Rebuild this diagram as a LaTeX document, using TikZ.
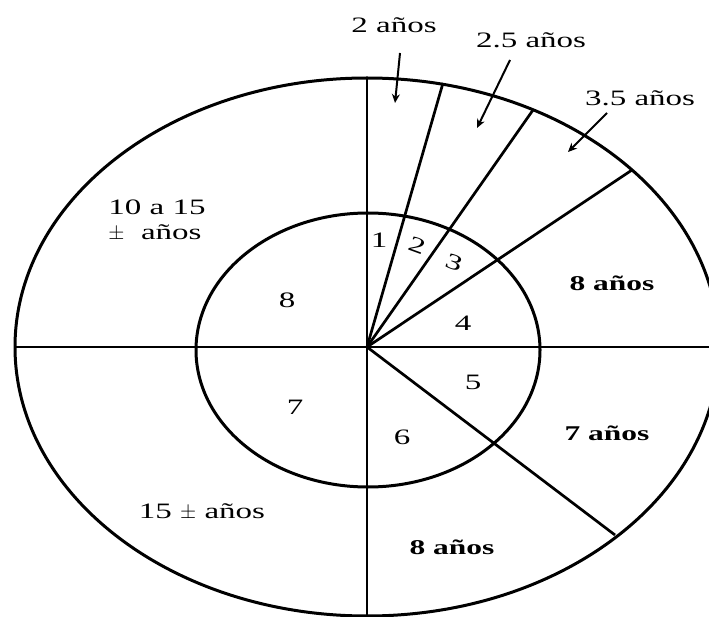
\documentclass[tikz,border=0pt]{standalone}
\usepackage{fontspec}
\setmainfont{Liberation Serif}
\newfontfamily\lblfont[FakeStretch=1.5]{Liberation Serif}
\usepackage{tikz}
\usetikzlibrary{arrows.meta}

\tikzset{
    rim/.style={line width=3pt},
    ray/.style={line width=2.7pt},
    lbl/.style={inner sep=0pt, font=\lblfont\fontsize{22}{24}\selectfont},
    boldlbl/.style={lbl, font=\lblfont\bfseries\fontsize{21}{24}\selectfont},
    num/.style={inner sep=0pt, font=\lblfont\fontsize{22}{24}\selectfont},
    pointer/.style={line width=2pt, -{Stealth[length=9pt, width=8pt]}}
}

\begin{document}
\begin{tikzpicture}[x=1pt, y=-1pt]
    \useasboundingbox (0,0) rectangle (709,617);
    \coordinate (o) at (367,347);
    % ellipses
    \draw[rim] (o) ellipse [x radius=352pt, y radius=269pt];
    \draw[rim] (368,350) ellipse [x radius=172pt, y radius=137pt];
    % rays
    \coordinate (up) at (367,78);
    \coordinate (down) at (367,617);
    \coordinate (west) at (15,347);
    \coordinate (east) at (709,347);
    \coordinate (r1) at (443,83);
    \coordinate (r2) at (533,110);
    \coordinate (r3) at (632,170);
    \coordinate (r4) at (615,535);
    \draw[ray] (up) -- (down);
    \draw[ray] (west) -- (east);
    \draw[ray] (o) -- (r1);
    \draw[ray] (o) -- (r2);
    \draw[ray] (o) -- (r3);
    \draw[ray] (o) -- (r4);
    % inner numbers
    \node[num] (n1) at (379,240) {1};
    \node[num, rotate=-20] (n2) at (417,245) {2};
    \node[num, rotate=-20] (n3) at (454,263) {3};
    \node[num] (n4) at (463,323) {4};
    \node[num] (n5) at (473,382) {5};
    \node[num] (n6) at (402,437) {6};
    \node[num] (n7) at (295,407) {7};
    \node[num] (n8) at (287,300) {8};
    % outer labels
    \node[lbl] (a2) at (394,25) {2 años};
    \node[lbl] (a25) at (531,40) {2.5 años};
    \node[lbl] (a35) at (640,98) {3.5 años};
    \node[lbl, align=left] (a10) at (157,221) {10 a 15\\[1pt]$\pm$\ \ años};
    \node[boldlbl] (a8t) at (612,283) {8 años};
    \node[boldlbl] (a7) at (607,433) {7 años};
    \node[boldlbl] (a8b) at (452,547) {8 años};
    \node[lbl] (a15) at (202,512) {15 $\pm$ años};
    % pointers
    \coordinate (t1) at (400,53);
    \coordinate (h1) at (395,103);
    \coordinate (t2) at (510,60);
    \coordinate (h2) at (477,128);
    \coordinate (t3) at (607,113);
    \coordinate (h3) at (568,152);
    \draw[pointer] (t1) -- (h1);
    \draw[pointer] (t2) -- (h2);
    \draw[pointer] (t3) -- (h3);
\end{tikzpicture}
\end{document}
